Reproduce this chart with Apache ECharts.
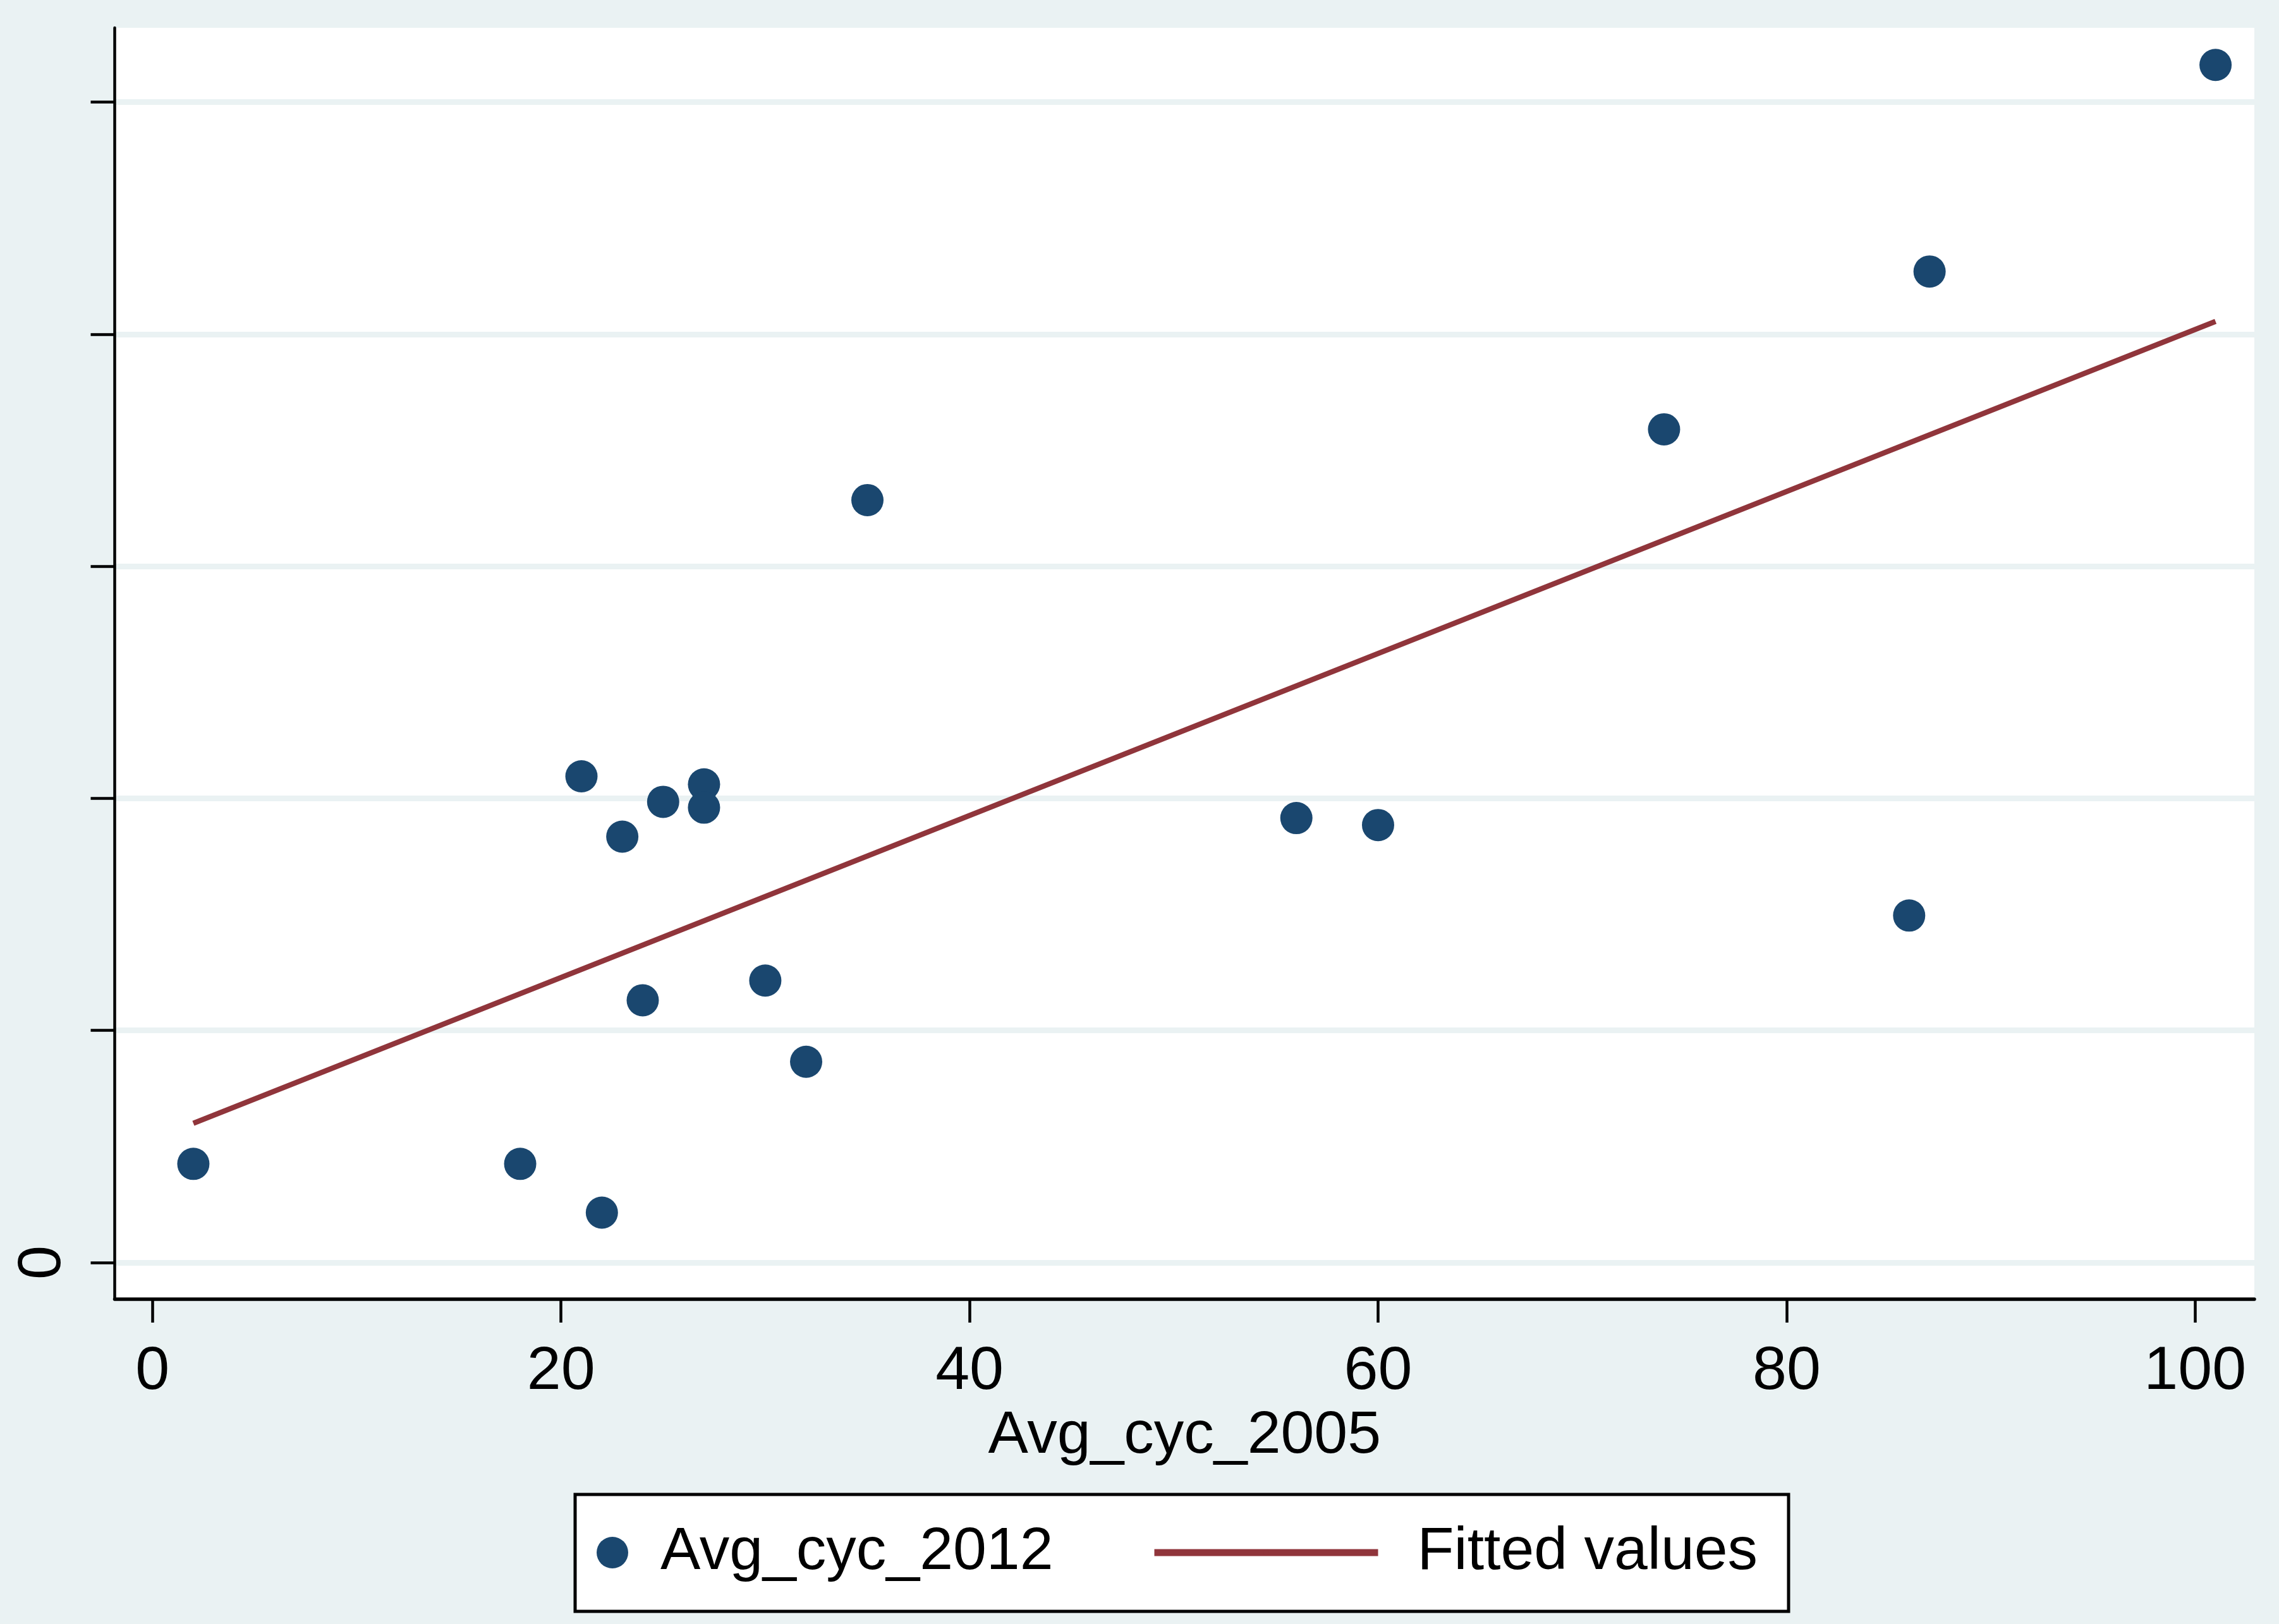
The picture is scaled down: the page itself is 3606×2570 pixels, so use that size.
<!DOCTYPE html>
<html>
<head>
<meta charset="utf-8">
<script src="https://cdn.jsdelivr.net/npm/echarts@6/dist/echarts.min.js"></script>
<style>
html,body{margin:0;padding:0;background:#eaf2f3;}
#chart{width:3606px;height:2570px;}
</style>
</head>
<body>
<div id="chart"></div>
<script>
// Data
var xAvgCyc2005 = [2, 18, 22, 21, 23, 24, 25, 27, 27, 30, 32, 35, 56, 60, 74, 86, 87, 101];
var yAvgCyc2012 = [8.5, 8.5, 4.3, 41.9, 36.7, 22.6, 39.7, 41.2, 39.2, 24.3, 17.3, 65.7, 38.3, 37.7, 71.8, 29.9, 85.4, 103.2];
var fitX = [2, 101];
var fitY = [12.0, 81.1];
var xTicks = [0, 20, 40, 60, 80, 100];
var yTicks = [0, 20, 40, 60, 80, 100];
var yTickLabels = ['0'];
var seriesNames = ['Avg_cyc_2012', 'Fitted values'];
var xTitle = 'Avg_cyc_2005';

var FONT = 'Liberation Sans, Arial, Helvetica, sans-serif';
var NAVY = '#1a476f';
var MAROON = '#90353b';
var BG = '#eaf2f3';

var scatterData = xAvgCyc2005.map(function (x, i) { return [x, yAvgCyc2012[i]]; });
var fitData = fitX.map(function (x, i) { return [x, fitY[i]]; });

var chart = echarts.init(document.getElementById('chart'), null, {renderer: 'canvas'});
chart.setOption({
  backgroundColor: BG,
  animation: false,
  textStyle: {fontFamily: FONT},
  grid: {
    left: 181.5, right: 39, top: 44, bottom: 514,
    show: true, backgroundColor: '#ffffff', borderWidth: 0
  },
  xAxis: {
    type: 'value',
    min: -1.85, max: 102.9,
    name: xTitle,
    nameLocation: 'middle',
    nameGap: 162,
    nameTextStyle: {fontFamily: FONT, fontSize: 95, color: '#000'},
    axisLine: {show: true, onZero: false, lineStyle: {color: '#000', width: 5.5}},
    axisTick: {show: true, length: 37, customValues: xTicks, lineStyle: {color: '#000', width: 4.5}},
    axisLabel: {show: true, customValues: xTicks, margin: 67, fontFamily: FONT, fontSize: 97, color: '#000'},
    splitLine: {show: false}
  },
  yAxis: {
    type: 'value',
    min: -3.16, max: 106.4,
    axisLine: {show: true, onZero: false, lineStyle: {color: '#000', width: 4.5}},
    axisTick: {show: true, length: 38, customValues: yTicks, lineStyle: {color: '#000', width: 4.5}},
    axisLabel: {
      show: true, customValues: yTickLabels.map(Number), rotate: 90, margin: 65,
      fontFamily: FONT, fontSize: 97, color: '#000',
      formatter: function (v) { return yTickLabels.indexOf(String(v)) >= 0 ? String(v) : ''; }
    },
    splitLine: {show: true, lineStyle: {color: BG, width: 9}}
  },
  legend: [
    {
      data: [{name: seriesNames[0], icon: 'circle'}],
      left: 944, top: 2407, padding: 0,
      itemWidth: 50, itemHeight: 50,
      textStyle: {fontFamily: FONT, fontSize: 95, color: '#000', lineHeight: 100, padding: [0, 0, 0, 46]},
      selectedMode: false
    },
    {
      data: [{name: seriesNames[1]}],
      left: 1821, top: 2407, padding: 0,
      itemWidth: 354, itemHeight: 11,
      lineStyle: {width: 11},
      textStyle: {fontFamily: FONT, fontSize: 95, color: '#000', lineHeight: 100, padding: [0, 0, 0, 57]},
      selectedMode: false
    }
  ],
  graphic: [
    {
      type: 'rect', z: -1, silent: true,
      shape: {x: 910, y: 2365, width: 1920, height: 185},
      style: {fill: '#ffffff', stroke: '#000', lineWidth: 5}
    }
  ],
  series: [
    {
      name: seriesNames[0],
      type: 'scatter',
      data: scatterData,
      symbol: 'circle',
      symbolSize: 51,
      itemStyle: {color: NAVY, opacity: 1},
      z: 3
    },
    {
      name: seriesNames[1],
      type: 'line',
      data: fitData,
      symbol: 'none',
      showSymbol: false,
      lineStyle: {color: MAROON, width: 8.5, cap: 'butt'},
      itemStyle: {color: MAROON},
      z: 2
    }
  ]
});
</script>
</body>
</html>
